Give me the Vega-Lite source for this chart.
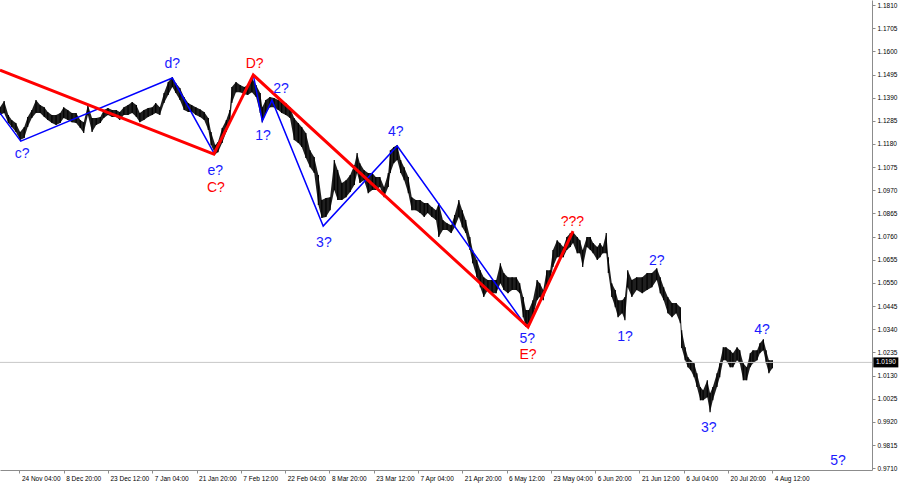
{
 "$schema": "https://vega.github.io/schema/vega-lite/v6.json",
 "width": 872, "height": 470,
 "autosize": {"type": "none"},
 "padding": {"left": 0, "top": 0, "right": 28, "bottom": 15},
 "background": "white",
 "config": {"view": {"stroke": null}, "axis": {"grid": false, "domainColor": "#8c8c8c", "tickColor": "#8c8c8c", "labelColor": "#000000", "labelFont": "Liberation Sans", "labelFontSize": 6.5, "tickSize": 3, "labelOverlap": false, "labelFlush": false}},
 "datasets": {
  "px": [
{"b":36,"h":1.1347,"l":1.1311},{"b":42,"h":1.1375,"l":1.1320},{"b":48,"h":1.1311,"l":1.1275},{"b":53,"h":1.1289,"l":1.1257},{"b":59,"h":1.1275,"l":1.1234},{"b":65,"h":1.1234,"l":1.1198},{"b":71,"h":1.1257,"l":1.1207},{"b":76,"h":1.1302,"l":1.1257},{"b":82,"h":1.1334,"l":1.1298},{"b":88,"h":1.1379,"l":1.1320},{"b":94,"h":1.1357,"l":1.1320},{"b":100,"h":1.1347,"l":1.1302},{"b":105,"h":1.1325,"l":1.1289},{"b":111,"h":1.1311,"l":1.1275},{"b":117,"h":1.1311,"l":1.1266},{"b":123,"h":1.1320,"l":1.1275},{"b":128,"h":1.1347,"l":1.1298},{"b":134,"h":1.1334,"l":1.1289},{"b":140,"h":1.1320,"l":1.1279},{"b":146,"h":1.1320,"l":1.1275},{"b":152,"h":1.1289,"l":1.1252},{"b":157,"h":1.1279,"l":1.1230},{"b":163,"h":1.1357,"l":1.1311},{"b":169,"h":1.1298,"l":1.1234},{"b":175,"h":1.1298,"l":1.1266},{"b":181,"h":1.1302,"l":1.1275},{"b":186,"h":1.1334,"l":1.1298},{"b":192,"h":1.1343,"l":1.1311},{"b":198,"h":1.1334,"l":1.1302},{"b":204,"h":1.1334,"l":1.1302},{"b":209,"h":1.1325,"l":1.1289},{"b":215,"h":1.1347,"l":1.1311},{"b":221,"h":1.1357,"l":1.1311},{"b":227,"h":1.1370,"l":1.1320},{"b":233,"h":1.1357,"l":1.1302},{"b":238,"h":1.1320,"l":1.1279},{"b":244,"h":1.1334,"l":1.1289},{"b":250,"h":1.1343,"l":1.1302},{"b":256,"h":1.1347,"l":1.1311},{"b":261,"h":1.1366,"l":1.1320},{"b":267,"h":1.1347,"l":1.1311},{"b":273,"h":1.1411,"l":1.1366},{"b":279,"h":1.1461,"l":1.1402},{"b":285,"h":1.1484,"l":1.1438},{"b":290,"h":1.1456,"l":1.1411},{"b":296,"h":1.1434,"l":1.1379},{"b":302,"h":1.1393,"l":1.1334},{"b":308,"h":1.1366,"l":1.1325},{"b":313,"h":1.1357,"l":1.1325},{"b":319,"h":1.1347,"l":1.1311},{"b":325,"h":1.1338,"l":1.1302},{"b":331,"h":1.1325,"l":1.1289},{"b":337,"h":1.1298,"l":1.1243},{"b":341,"h":1.1234,"l":1.1175},{"b":347,"h":1.1175,"l":1.1134},{"b":351,"h":1.1189,"l":1.1143},{"b":357,"h":1.1252,"l":1.1184},{"b":363,"h":1.1289,"l":1.1234},{"b":368,"h":1.1334,"l":1.1275},{"b":371,"h":1.1438,"l":1.1366},{"b":377,"h":1.1461,"l":1.1415},{"b":383,"h":1.1447,"l":1.1415},{"b":389,"h":1.1438,"l":1.1406},{"b":394,"h":1.1447,"l":1.1402},{"b":400,"h":1.1479,"l":1.1415},{"b":406,"h":1.1447,"l":1.1393},{"b":412,"h":1.1411,"l":1.1320},{"b":415,"h":1.1347,"l":1.1279},{"b":420,"h":1.1379,"l":1.1320},{"b":426,"h":1.1393,"l":1.1347},{"b":432,"h":1.1388,"l":1.1347},{"b":438,"h":1.1379,"l":1.1334},{"b":443,"h":1.1370,"l":1.1320},{"b":449,"h":1.1366,"l":1.1311},{"b":455,"h":1.1347,"l":1.1298},{"b":461,"h":1.1298,"l":1.1198},{"b":467,"h":1.1275,"l":1.1184},{"b":472,"h":1.1257,"l":1.1166},{"b":478,"h":1.1230,"l":1.1116},{"b":484,"h":1.1152,"l":1.1075},{"b":490,"h":1.1121,"l":1.1048},{"b":496,"h":1.1039,"l":1.0903},{"b":501,"h":1.0926,"l":1.0844},{"b":507,"h":1.0935,"l":1.0849},{"b":513,"h":1.0939,"l":1.0880},{"b":519,"h":1.1107,"l":1.0971},{"b":524,"h":1.1062,"l":1.0926},{"b":530,"h":1.1003,"l":1.0926},{"b":536,"h":1.1016,"l":1.0939},{"b":542,"h":1.1039,"l":1.0962},{"b":548,"h":1.1084,"l":1.0994},{"b":552,"h":1.1139,"l":1.1048},{"b":556,"h":1.1093,"l":1.1003},{"b":562,"h":1.1062,"l":1.1016},{"b":568,"h":1.1048,"l":1.0957},{"b":574,"h":1.1048,"l":1.0971},{"b":579,"h":1.1030,"l":1.0971},{"b":585,"h":1.1030,"l":1.0985},{"b":591,"h":1.0985,"l":1.0939},{"b":597,"h":1.1048,"l":1.0985},{"b":600,"h":1.1152,"l":1.1048},{"b":605,"h":1.1166,"l":1.1093},{"b":610,"h":1.1175,"l":1.1107},{"b":615,"h":1.1107,"l":1.1048},{"b":620,"h":1.1075,"l":1.1016},{"b":626,"h":1.1030,"l":1.0957},{"b":631,"h":1.0939,"l":1.0880},{"b":637,"h":1.0926,"l":1.0880},{"b":643,"h":1.0926,"l":1.0867},{"b":649,"h":1.0912,"l":1.0849},{"b":654,"h":1.0912,"l":1.0867},{"b":660,"h":1.0894,"l":1.0849},{"b":666,"h":1.0880,"l":1.0835},{"b":670,"h":1.0912,"l":1.0758},{"b":676,"h":1.0835,"l":1.0790},{"b":682,"h":1.0821,"l":1.0790},{"b":688,"h":1.0812,"l":1.0776},{"b":693,"h":1.0858,"l":1.0803},{"b":699,"h":1.0926,"l":1.0849},{"b":704,"h":1.0880,"l":1.0803},{"b":709,"h":1.0835,"l":1.0776},{"b":715,"h":1.0758,"l":1.0699},{"b":719,"h":1.0699,"l":1.0640},{"b":725,"h":1.0654,"l":1.0576},{"b":730,"h":1.0608,"l":1.0531},{"b":735,"h":1.0576,"l":1.0486},{"b":741,"h":1.0563,"l":1.0518},{"b":747,"h":1.0563,"l":1.0504},{"b":753,"h":1.0563,"l":1.0504},{"b":759,"h":1.0640,"l":1.0549},{"b":764,"h":1.0595,"l":1.0518},{"b":770,"h":1.0576,"l":1.0504},{"b":776,"h":1.0576,"l":1.0518},{"b":782,"h":1.0576,"l":1.0518},{"b":787,"h":1.0549,"l":1.0504},{"b":792,"h":1.0486,"l":1.0395},{"b":796,"h":1.0427,"l":1.0350},{"b":800,"h":1.0427,"l":1.0368},{"b":806,"h":1.0472,"l":1.0395},{"b":812,"h":1.0563,"l":1.0472},{"b":816,"h":1.0549,"l":1.0486},{"b":821,"h":1.0518,"l":1.0472},{"b":826,"h":1.0608,"l":1.0531},{"b":831,"h":1.0608,"l":1.0563},{"b":835,"h":1.0699,"l":1.0622},{"b":841,"h":1.0744,"l":1.0667},{"b":845,"h":1.0731,"l":1.0667},{"b":850,"h":1.0713,"l":1.0667},{"b":855,"h":1.0758,"l":1.0699},{"b":860,"h":1.0776,"l":1.0713},{"b":864,"h":1.0781,"l":1.0731},{"b":870,"h":1.0758,"l":1.0685},{"b":874,"h":1.0744,"l":1.0685},{"b":878,"h":1.0699,"l":1.0622},{"b":884,"h":1.0758,"l":1.0713},{"b":889,"h":1.0758,"l":1.0699},{"b":893,"h":1.0731,"l":1.0685},{"b":899,"h":1.0713,"l":1.0654},{"b":903,"h":1.0731,"l":1.0667},{"b":907,"h":1.0713,"l":1.0685},{"b":912,"h":1.0776,"l":1.0685},{"b":915,"h":1.0667,"l":1.0595},{"b":920,"h":1.0549,"l":1.0486},{"b":925,"h":1.0518,"l":1.0440},{"b":929,"h":1.0472,"l":1.0395},{"b":935,"h":1.0472,"l":1.0413},{"b":939,"h":1.0486,"l":1.0381},{"b":943,"h":1.0608,"l":1.0531},{"b":949,"h":1.0563,"l":1.0486},{"b":956,"h":1.0576,"l":1.0518},{"b":964,"h":1.0576,"l":1.0504},{"b":971,"h":1.0595,"l":1.0518},{"b":978,"h":1.0595,"l":1.0531},{"b":985,"h":1.0617,"l":1.0563},{"b":990,"h":1.0576,"l":1.0504},{"b":995,"h":1.0531,"l":1.0472},{"b":1001,"h":1.0486,"l":1.0413},{"b":1007,"h":1.0459,"l":1.0395},{"b":1013,"h":1.0459,"l":1.0413},{"b":1019,"h":1.0440,"l":1.0368},{"b":1021,"h":1.0336,"l":1.0255},{"b":1026,"h":1.0259,"l":1.0200},{"b":1030,"h":1.0214,"l":1.0168},{"b":1034,"h":1.0200,"l":1.0155},{"b":1039,"h":1.0186,"l":1.0123},{"b":1043,"h":1.0141,"l":1.0078},{"b":1048,"h":1.0078,"l":1.0019},{"b":1052,"h":1.0064,"l":1.0019},{"b":1058,"h":1.0109,"l":1.0032},{"b":1062,"h":1.0050,"l":0.9964},{"b":1066,"h":1.0078,"l":1.0019},{"b":1072,"h":1.0141,"l":1.0078},{"b":1076,"h":1.0186,"l":1.0123},{"b":1081,"h":1.0259,"l":1.0200},{"b":1085,"h":1.0259,"l":1.0200},{"b":1091,"h":1.0245,"l":1.0168},{"b":1095,"h":1.0232,"l":1.0168},{"b":1101,"h":1.0259,"l":1.0200},{"b":1105,"h":1.0245,"l":1.0186},{"b":1110,"h":1.0186,"l":1.0109},{"b":1115,"h":1.0168,"l":1.0109},{"b":1120,"h":1.0232,"l":1.0168},{"b":1124,"h":1.0245,"l":1.0186},{"b":1130,"h":1.0245,"l":1.0200},{"b":1134,"h":1.0277,"l":1.0232},{"b":1139,"h":1.0295,"l":1.0245},{"b":1143,"h":1.0245,"l":1.0186},{"b":1147,"h":1.0200,"l":1.0141},{"b":1152,"h":1.0200,"l":1.0164}
  ],
  "major": [{"o":1,"b":36,"p":1.1515},{"o":2,"b":345,"p":1.1134},{"o":3,"b":402,"p":1.1493},{"o":4,"b":799,"p":1.0350},{"o":5,"b":864,"p":1.0785}],
  "minor": [{"s":"a","o":1,"b":36,"p":1.1320},{"s":"a","o":2,"b":66,"p":1.1193},{"s":"a","o":3,"b":285,"p":1.1479},{"s":"a","o":4,"b":346,"p":1.1134},{"s":"b","o":5,"b":402,"p":1.1493},{"s":"b","o":6,"b":415,"p":1.1284},{"s":"b","o":7,"b":429,"p":1.1379},{"s":"b","o":8,"b":503,"p":1.0808},{"s":"b","o":9,"b":610,"p":1.1171},{"s":"b","o":10,"b":796,"p":1.0354}],
  "labels": [{"b":68,"p":1.1134,"t":"c?","k":"minor"},{"b":285,"p":1.1542,"t":"d?","k":"minor"},{"b":347,"p":1.1057,"t":"e?","k":"minor"},{"b":348,"p":1.0980,"t":"C?","k":"major"},{"b":404,"p":1.1542,"t":"D?","k":"major"},{"b":442,"p":1.1429,"t":"2?","k":"minor"},{"b":416,"p":1.1216,"t":"1?","k":"minor"},{"b":504,"p":1.0731,"t":"3?","k":"minor"},{"b":608,"p":1.1234,"t":"4?","k":"minor"},{"b":798,"p":1.0295,"t":"5?","k":"minor"},{"b":799,"p":1.0223,"t":"E?","k":"major"},{"b":863,"p":1.0826,"t":"???","k":"major"},{"b":939,"p":1.0304,"t":"1?","k":"minor"},{"b":985,"p":1.0649,"t":"2?","k":"minor"},{"b":1060,"p":0.9892,"t":"3?","k":"minor"},{"b":1137,"p":1.0336,"t":"4?","k":"minor"},{"b":1247,"p":0.9742,"t":"5?","k":"minor"}],
  "cur": [{"b":1316,"p":1.019,"t":"1.0190"}]
 },
 "layer": [
  {
   "data": {"name": "px"},
   "mark": {"type": "area", "color": "#000000", "opacity": 0.88},
   "encoding": {
    "x": {"field": "b", "type": "quantitative", "scale": {"domain": [36, 1296], "nice": false, "zero": false},
     "axis": {"title": null, "values": [64,128,192,256,320,384,448,512,576,640,704,768,832,896,960,1024,1088,1152], "tickCount": 40,
      "labelExpr": "['24 Nov 04:00','8 Dec 20:00','23 Dec 12:00','7 Jan 04:00','21 Jan 20:00','7 Feb 12:00','22 Feb 04:00','8 Mar 20:00','23 Mar 12:00','7 Apr 04:00','21 Apr 20:00','6 May 12:00','23 May 04:00','6 Jun 20:00','21 Jun 12:00','6 Jul 04:00','20 Jul 20:00','4 Aug 12:00'][round(datum.value/64)-1]",
      "labelAlign": "left", "labelBaseline": "top", "labelPadding": 2, "labelOffset": 2, "labelOverlap": false, "labelFlush": false}},
    "y": {"field": "h", "type": "quantitative", "scale": {"domain": [0.97023, 1.18327], "nice": false, "zero": false},
     "axis": {"title": null, "orient": "right", "values": [0.971,0.9815,0.992,1.0025,1.013,1.0235,1.034,1.0445,1.055,1.0655,1.076,1.0865,1.097,1.1075,1.118,1.1285,1.139,1.1495,1.16,1.1705,1.181], "tickCount": 40,
      "format": ".4f", "labelPadding": 2, "labelOverlap": false, "labelFlush": false}},
    "y2": {"field": "l"}
   }
  },
  {
   "data": {"name": "px"},
   "mark": {"type": "rule", "color": "#000000", "strokeWidth": 1.2},
   "encoding": {
    "x": {"field": "b", "type": "quantitative"},
    "y": {"field": "h", "type": "quantitative"},
    "y2": {"field": "l"}
   }
  },
  {
   "data": {"name": "cur"},
   "mark": {"type": "rule", "color": "#c8c8c8", "strokeWidth": 1},
   "encoding": {"y": {"field": "p", "type": "quantitative"}}
  },
  {
   "data": {"name": "minor"},
   "mark": {"type": "line", "color": "#0000ff", "strokeWidth": 1.5},
   "encoding": {
    "x": {"field": "b", "type": "quantitative"},
    "y": {"field": "p", "type": "quantitative"},
    "detail": {"field": "s"},
    "order": {"field": "o"}
   }
  },
  {
   "data": {"name": "major"},
   "mark": {"type": "line", "color": "#ff0000", "strokeWidth": 3},
   "encoding": {
    "x": {"field": "b", "type": "quantitative"},
    "y": {"field": "p", "type": "quantitative"},
    "order": {"field": "o"}
   }
  },
  {
   "data": {"name": "labels"},
   "mark": {"type": "text", "font": "Liberation Sans", "fontSize": 14, "align": "center", "baseline": "middle"},
   "encoding": {
    "x": {"field": "b", "type": "quantitative"},
    "y": {"field": "p", "type": "quantitative"},
    "text": {"field": "t"},
    "color": {"field": "k", "type": "nominal", "scale": {"domain": ["minor", "major"], "range": ["#1a1aff", "#ff0000"]}, "legend": null}
   }
  },
  {
   "data": {"name": "cur"},
   "mark": {"type": "tick", "orient": "horizontal", "size": 25, "thickness": 10, "color": "#000000", "opacity": 1},
   "encoding": {
    "x": {"field": "b", "type": "quantitative"},
    "y": {"field": "p", "type": "quantitative"}
   }
  },
  {
   "data": {"name": "cur"},
   "mark": {"type": "text", "font": "Liberation Sans", "fontSize": 6.5, "color": "#ffffff", "align": "center", "baseline": "middle"},
   "encoding": {
    "x": {"field": "b", "type": "quantitative"},
    "y": {"field": "p", "type": "quantitative"},
    "text": {"field": "t"}
   }
  }
 ]
}
